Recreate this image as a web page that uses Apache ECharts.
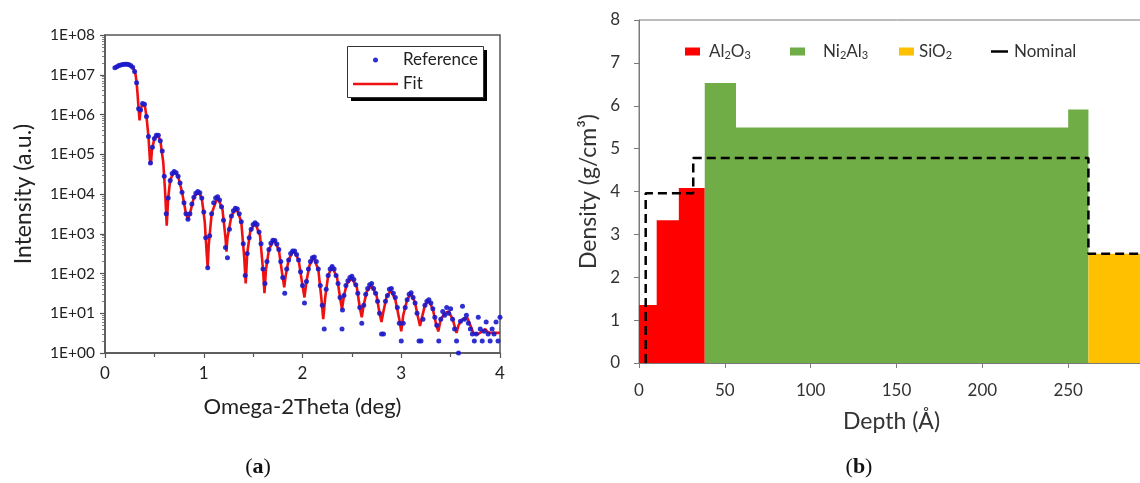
<!DOCTYPE html>
<html><head><meta charset="utf-8">
<script src="https://cdn.jsdelivr.net/npm/echarts@6/dist/echarts.min.js"></script>
<style>html,body{margin:0;padding:0;overflow:hidden;background:#fff;width:1140px;height:483px}
#c{width:1180px;height:483px}</style></head><body><div id="c"></div>
<script>
// ---------- Panel (a): XRR curve ----------
const xTicksA = [0, 1, 2, 3, 4];
const yDecadesA = [1, 1e1, 1e2, 1e3, 1e4, 1e5, 1e6, 1e7, 1e8];
// Reference (measured) points [theta (deg), intensity]
const referencePoints = [
[0.10,1.5e7],[0.12,1.6e7],[0.14,1.7e7],[0.16,1.75e7],[0.18,1.8e7],[0.20,1.85e7],[0.22,1.85e7],[0.24,1.8e7],[0.26,1.7e7],[0.28,1.55e7],
[0.30,1.2e7],[0.32,6.3e6],[0.34,1.4e6],[0.36,1.3e6],[0.38,1.9e6],[0.40,1.8e6],[0.42,8.9e5],[0.44,2.8e5],[0.46,6.0e4],[0.48,1.5e5],
[0.50,2.5e5],[0.52,3.0e5],[0.54,3.0e5],[0.56,2.2e5],[0.58,1.2e5],[0.60,2.8e4],[0.62,3.2e3],[0.64,7.9e3],[0.66,2.2e4],[0.68,3.3e4],
[0.70,3.7e4],[0.72,3.4e4],[0.74,2.8e4],[0.76,1.9e4],[0.78,1.1e4],[0.80,6.0e3],[0.82,3.2e3],[0.84,2.3e3],[0.86,3.2e3],[0.88,5.6e3],
[0.90,8.3e3],[0.92,1.05e4],[0.94,1.15e4],[0.96,1.07e4],[0.98,7.9e3],[1.00,3.5e3],[1.02,790],[1.04,140],[1.06,890],[1.08,3200],
[1.10,6000],[1.12,7900],[1.14,8500],[1.16,7100],[1.18,4800],[1.20,2200],[1.22,450],[1.24,250],[1.26,1300],[1.28,2800],
[1.30,3800],[1.32,4400],[1.34,4200],[1.36,3200],[1.38,2000],[1.40,560],[1.42,89],[1.44,320],[1.46,790],[1.48,1300],
[1.50,1700],[1.52,1900],[1.54,1700],[1.56,1100],[1.58,560],[1.60,130],[1.62,56],[1.64,200],[1.66,400],[1.68,580],
[1.70,690],[1.72,680],[1.74,550],[1.76,400],[1.78,200],[1.80,79],[1.82,32],[1.84,130],[1.86,220],[1.88,320],
[1.90,370],[1.92,370],[1.94,300],[1.96,220],[1.98,110],[2.00,50],[2.02,18],[2.04,63],[2.06,130],[2.08,200],
[2.10,250],[2.12,260],[2.14,200],[2.16,130],[2.18,50],[2.20,16],[2.22,4],[2.24,40],[2.26,89],[2.28,130],
[2.30,150],[2.32,130],[2.34,89],[2.36,56],[2.38,25],[2.40,4],[2.405,12],[2.42,28],[2.44,50],[2.46,66],[2.48,79],
[2.50,85],[2.52,71],[2.54,52],[2.56,32],[2.58,14],[2.60,5.6],[2.62,16],[2.64,30],[2.66,42],[2.68,52],
[2.70,56],[2.72,42],[2.74,32],[2.76,20],[2.78,10],[2.80,3],[2.82,3],[2.84,20],[2.86,28],[2.88,40],
[2.90,42],[2.92,32],[2.94,25],[2.96,14],[2.98,5.6],[3.00,2],[3.02,5.6],[3.04,14],[3.06,22],[3.08,30],
[3.10,33],[3.12,25],[3.14,18],[3.16,10],[3.18,2],[3.20,2],[3.22,7.1],[3.24,16],[3.26,20],[3.28,22],
[3.30,18],[3.32,13],[3.34,7.9],[3.36,5],[3.38,2],[3.40,7.1],[3.42,11],[3.44,8.9],[3.46,14],[3.48,10],
[3.50,13],[3.52,7.1],[3.54,4],[3.56,2],[3.58,1],[3.60,6.3],[3.62,15],[3.64,7.1],[3.66,8.9],[3.68,5.6],
[3.70,4],[3.72,3],[3.74,2],[3.76,3],[3.78,7.9],[3.80,4],[3.82,2],[3.84,3.5],[3.86,6],[3.88,3],
[3.90,2],[3.92,4],[3.94,3],[3.96,6],[3.98,2],[4.00,7.9]
];
// Fit curve [theta (deg), intensity]
const fitPoints = [
[0.10,1.5e7],[0.14,1.66e7],[0.18,1.82e7],[0.22,1.86e7],[0.26,1.74e7],[0.29,1.41e7],[0.31,1.0e7],[0.32,6.3e6],[0.33,3.2e6],[0.34,1.4e6],
[0.35,7.1e5],[0.36,1.26e6],[0.375,1.78e6],[0.39,1.9e6],[0.405,1.58e6],[0.42,8.9e5],[0.44,2.8e5],[0.455,7.1e4],[0.465,5.6e4],[0.475,1.26e5],
[0.50,2.5e5],[0.53,3.1e5],[0.56,2.24e5],[0.59,6.3e4],[0.61,1.0e4],[0.625,1.6e3],[0.64,7.9e3],[0.66,2.24e4],[0.70,3.7e4],[0.74,2.8e4],
[0.78,1.12e4],[0.82,3.2e3],[0.84,2.3e3],[0.86,3.2e3],[0.90,8.3e3],[0.945,1.15e4],[0.98,7.9e3],[1.01,2.0e3],[1.03,316],[1.04,141],
[1.05,500],[1.08,3.2e3],[1.14,8.5e3],[1.19,4.0e3],[1.22,794],[1.23,355],[1.24,794],[1.28,2.8e3],[1.33,4.4e3],[1.38,2.0e3],
[1.41,251],[1.425,56],[1.44,316],[1.47,1.12e3],[1.52,1.9e3],[1.57,891],[1.60,126],[1.615,32],[1.63,126],[1.66,398],
[1.71,708],[1.76,398],[1.80,79],[1.815,45],[1.83,89],[1.86,224],[1.91,380],[1.96,224],[2.00,50],[2.02,25],
[2.04,63],[2.07,158],[2.11,257],[2.16,126],[2.19,25],[2.21,7.1],[2.23,25],[2.26,89],[2.30,148],[2.35,79],
[2.38,25],[2.40,12.6],[2.42,28],[2.45,56],[2.50,76],[2.55,45],[2.58,14],[2.60,7.9],[2.62,16],[2.65,35],
[2.70,50],[2.75,28],[2.78,10],[2.80,6.0],[2.82,11.2],[2.85,25],[2.895,38],[2.94,22],[2.98,7.1],[3.00,3.5],
[3.02,8.9],[3.06,22],[3.10,32],[3.14,18],[3.17,7.9],[3.19,4.8],[3.21,7.9],[3.24,16],[3.28,21],[3.32,12.6],
[3.355,5.0],[3.375,3.5],[3.40,7.1],[3.44,10],[3.48,11.2],[3.52,7.1],[3.56,3.2],[3.58,5.0],[3.62,7.1],[3.67,7.6],
[3.70,5.0],[3.73,3.2],[3.78,3.0],[3.82,3.5],[3.85,4.0],[3.88,3.3],[3.92,3.2],[3.96,3.2],[4.00,3.2]
];

// ---------- Panel (b): density profile ----------
const xTicksB = [0, 50, 100, 150, 200, 250, 300];
const yTicksB = [0, 1, 2, 3, 4, 5, 6, 7, 8];
const al2o3Depth = [0, 10.3, 23.2, 38.3];
const al2o3Density = [1.35, 3.33, 4.08];
const ni2al3Depth = [38.3, 56.5, 250, 261.8];
const ni2al3Density = [6.53, 5.49, 5.91];
const sio2Depth = [261.8, 300];
const sio2Density = [2.55];
const nominalDepth = [3.9, 31.6, 261.8, 300];
const nominalDensity = [3.96, 4.78, 2.55];

function stepPoints(depths, dens) {
  const pts = [];
  for (let i = 0; i < dens.length; i++) pts.push([depths[i], dens[i]]);
  pts.push([depths[depths.length - 1], dens[dens.length - 1]]);
  return pts;
}
function nominalPoints(depths, dens) {
  const pts = [[depths[0], 0]];
  for (let i = 0; i < dens.length; i++) {
    pts.push([depths[i], dens[i]]);
    pts.push([depths[i + 1], dens[i]]);
  }
  return pts;
}

const FONT = 'Lato, "Noto Sans", sans-serif';
const SERIF = '"Liberation Serif", "DejaVu Serif", serif';
const chart = echarts.init(document.getElementById('c'), null, {renderer: 'canvas'});

const subFmt = {
  'Al2O3': 'Al{s|2}O{s|3}',
  'Ni2Al3': 'Ni{s|2}Al{s|3}',
  'SiO2': 'SiO{s|2}',
  'Nominal': 'Nominal'
};
function legendB(name, left, w, h, padLeft) {
  return {
    data: [{name: name, icon: 'rect'}],
    left: left, top: 43, orient: 'horizontal', padding: 0,
    itemWidth: w, itemHeight: h, selectedMode: false,
    formatter: n => subFmt[n],
    textStyle: {fontFamily: FONT, fontSize: 17, color: '#333', padding: [0, 0, 0, padLeft],
      rich: {s: {fontFamily: FONT, fontSize: 11, color: '#333', verticalAlign: 'bottom', padding: [8, 0, 0, 0]}}}
  };
}
function legendA(name, left, top, icon, h) {
  return {
    data: [{name: name, icon: icon}],
    left: left, top: top, orient: 'horizontal', padding: 0, z: 40,
    itemWidth: 45, itemHeight: h, selectedMode: false,
    textStyle: {fontFamily: FONT, fontSize: 17, color: '#222', lineHeight: 20}
  };
}

const option = {
  animation: false,
  textStyle: {fontFamily: FONT},
  grid: [
    {left: 105, top: 35, width: 395, height: 318, show: true, borderColor: '#555', borderWidth: 1.5,
     backgroundColor: '#fff', outerBoundsMode: 'none', containLabel: false},
    {left: 639, top: 20, width: 515, height: 343, show: true, borderColor: '#7a7a7a', borderWidth: 1,
     backgroundColor: 'transparent', outerBoundsMode: 'none', containLabel: false}
  ],
  xAxis: [
    {gridIndex: 0, type: 'value', min: xTicksA[0], max: xTicksA[xTicksA.length - 1], interval: 1,
     axisLine: {onZero: false, lineStyle: {color: '#555', width: 1.5}},
     axisTick: {length: 5, lineStyle: {color: '#555', width: 1.2}},
     minorTick: {show: true, splitNumber: 2, length: 4, lineStyle: {color: '#555', width: 1.2}},
     splitLine: {show: false},
     axisLabel: {fontSize: 17, color: '#222', margin: 12, fontFamily: FONT},
     name: 'Omega-2Theta (deg)', nameLocation: 'middle', nameGap: 43,
     nameTextStyle: {fontSize: 22, color: '#222', fontFamily: FONT}},
    {gridIndex: 1, type: 'value', min: xTicksB[0], max: xTicksB[xTicksB.length - 1], interval: 50,
     axisLine: {onZero: false, lineStyle: {color: '#7a7a7a', width: 1}},
     axisTick: {length: 5, lineStyle: {color: '#7a7a7a'}},
     splitLine: {show: false},
     axisLabel: {fontSize: 17, color: '#333', margin: 19, fontFamily: FONT},
     name: 'Depth (Å)', nameLocation: 'middle', nameGap: 47,
     nameTextStyle: {fontSize: 23, color: '#333', fontFamily: FONT, padding: [0, 10, 0, 0]}}
  ],
  yAxis: [
    {gridIndex: 0, type: 'log', logBase: 10, min: yDecadesA[0], max: yDecadesA[yDecadesA.length - 1], splitNumber: 8,
     axisLine: {lineStyle: {color: '#555', width: 1.5}},
     axisTick: {length: 5, lineStyle: {color: '#555', width: 1.2}},
     minorTick: {show: true, splitNumber: 9, length: 3, lineStyle: {color: '#666', width: 0.8}},
     splitLine: {show: false},
     axisLabel: {fontSize: 15.5, color: '#222', margin: 10, fontFamily: FONT,
       formatter: v => { const e = Math.round(Math.log10(v)); return '1E+' + (e < 10 ? '0' : '') + e; }},
     name: 'Intensity (a.u.)', nameLocation: 'middle', nameGap: 70,
     nameTextStyle: {fontSize: 23, color: '#222', fontFamily: FONT}},
    {gridIndex: 1, type: 'value', min: yTicksB[0], max: yTicksB[yTicksB.length - 1], interval: 1,
     axisLine: {show: true, lineStyle: {color: '#7a7a7a', width: 1}},
     axisTick: {show: true, length: 5, lineStyle: {color: '#7a7a7a'}},
     splitLine: {show: false},
     axisLabel: {fontSize: 17, color: '#333', margin: 19, fontFamily: FONT},
     name: 'Density (g/cm³)', nameLocation: 'middle', nameGap: 39,
     nameTextStyle: {fontSize: 23, color: '#333', fontFamily: FONT}}
  ],
  legend: [
    legendA('Reference', 373, 50, 'circle', 5),
    legendA('Fit', 353, 74, 'rect', 2.4),
    legendB('Al2O3', 685, 15, 8, 4),
    legendB('Ni2Al3', 790, 15, 8, 13),
    legendB('SiO2', 899, 15, 8, 0),
    legendB('Nominal', 991, 17, 2.5, 1)
  ],
  graphic: [
    {type: 'rect', z: 5, shape: {x: 351, y: 50, width: 136, height: 51}, style: {fill: '#000'}},
    {type: 'rect', z: 6, shape: {x: 347.5, y: 46.5, width: 136, height: 51}, style: {fill: '#fff', stroke: '#333', lineWidth: 1}},
    {type: 'text', x: 258, y: 467, style: {text: '({b|a})', fontSize: 22, fontFamily: SERIF,
      fill: '#111', align: 'center', verticalAlign: 'middle',
      rich: {b: {fontSize: 22, fontWeight: 'bold', fontFamily: SERIF, fill: '#111'}}}},
    {type: 'text', x: 859, y: 467, style: {text: '({b|b})', fontSize: 22, fontFamily: SERIF,
      fill: '#111', align: 'center', verticalAlign: 'middle',
      rich: {b: {fontSize: 22, fontWeight: 'bold', fontFamily: SERIF, fill: '#111'}}}}
  ],
  series: [
    {name: 'Fit', type: 'line', xAxisIndex: 0, yAxisIndex: 0, data: fitPoints, symbol: 'none', showSymbol: false,
     lineStyle: {color: '#ee1111', width: 2.6}, itemStyle: {color: '#ee1111'}, z: 2},
    {name: 'Reference', type: 'scatter', xAxisIndex: 0, yAxisIndex: 0, data: referencePoints, symbol: 'circle', symbolSize: 5,
     itemStyle: {color: '#1a1acc', opacity: 0.9}, z: 3},
    {name: 'Al2O3', type: 'line', xAxisIndex: 1, yAxisIndex: 1, step: 'end', data: stepPoints(al2o3Depth, al2o3Density),
     symbol: 'none', lineStyle: {width: 0, opacity: 0}, areaStyle: {color: '#ff0000', opacity: 1}, itemStyle: {color: '#ff0000'}, z: 2},
    {name: 'Ni2Al3', type: 'line', xAxisIndex: 1, yAxisIndex: 1, step: 'end', data: stepPoints(ni2al3Depth, ni2al3Density),
     symbol: 'none', lineStyle: {width: 0, opacity: 0}, areaStyle: {color: '#70ad47', opacity: 1}, itemStyle: {color: '#70ad47'}, z: 2},
    {name: 'SiO2', type: 'line', xAxisIndex: 1, yAxisIndex: 1, step: 'end', data: stepPoints(sio2Depth, sio2Density),
     symbol: 'none', lineStyle: {width: 0, opacity: 0}, areaStyle: {color: '#ffc000', opacity: 1}, itemStyle: {color: '#ffc000'}, z: 2},
    {name: 'Nominal', type: 'line', xAxisIndex: 1, yAxisIndex: 1, data: nominalPoints(nominalDepth, nominalDensity),
     symbol: 'none', lineStyle: {color: '#000', width: 2.5, type: [9, 5]}, itemStyle: {color: '#000'}, z: 4}
  ]
};
chart.setOption(option);
</script></body></html>
